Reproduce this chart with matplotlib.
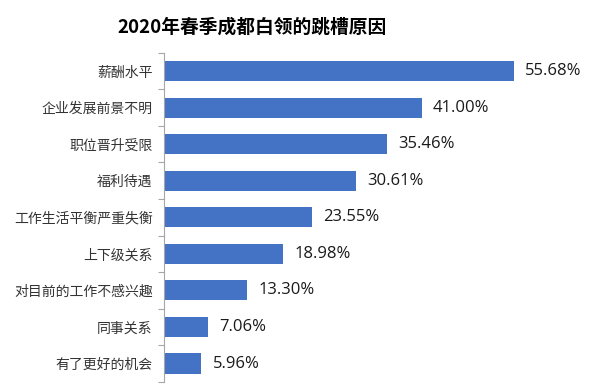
import matplotlib
matplotlib.use('Agg')
import matplotlib.pyplot as plt

plt.rcParams['font.family'] = ['Noto Sans CJK SC', 'DejaVu Sans']

categories = ['薪酬水平', '企业发展前景不明', '职位晋升受限', '福利待遇', '工作生活平衡严重失衡',
              '上下级关系', '对目前的工作不感兴趣', '同事关系', '有了更好的机会']
values = [55.68, 41.00, 35.46, 30.61, 23.55, 18.98, 13.30, 7.06, 5.96]
value_labels = ['55.68%', '41.00%', '35.46%', '30.61%', '23.55%', '18.98%', '13.30%', '7.06%', '5.96%']

fig = plt.figure(figsize=(6, 3.88), dpi=100)
ax = fig.add_axes([0.273, 0.016, 0.692, 0.848])

pos = list(range(len(categories)))[::-1]
ax.barh(pos, values, height=0.55, color='#4472C4')
for p, v, lab in zip(pos, values, value_labels):
    ax.text(v + 1.8, p, lab, va='center', ha='left', fontsize=12, color='#1a1a1a',
            family=['Open Sans', 'DejaVu Sans'])

ax.set_xlim(0, 66)
ax.set_ylim(-0.5, len(categories) - 0.5)
ax.set_yticks(pos)
ax.set_yticklabels(categories, fontsize=10, color='#333333')
ax.set_yticks([i + 0.5 for i in range(-1, len(categories))], minor=True)
ax.tick_params(axis='y', which='major', length=0, pad=8)
ax.tick_params(axis='y', which='minor', length=4, color='#a6a6a6', width=0.8)
ax.set_xticks([])
for s in ['top', 'right', 'bottom']:
    ax.spines[s].set_visible(False)
ax.spines['left'].set_color('#a6a6a6')
ax.spines['left'].set_linewidth(0.8)

fig.text(0.42, 0.93, '2020年春季成都白领的跳槽原因', ha='center', va='center',
         fontsize=13.5, fontweight='bold', color='#000000')

fig.savefig('out.png', dpi=100)
